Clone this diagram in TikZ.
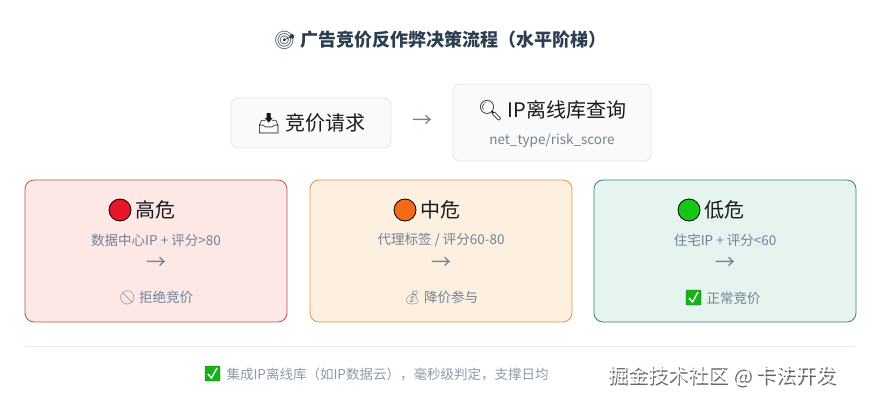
\documentclass[tikz,border=0pt]{standalone}
\usepackage{fontspec}
\setmainfont{Noto Sans CJK SC}
\newfontfamily\emo{Noto Emoji}
\begin{document}
\begin{tikzpicture}[x=1pt,y=-1pt,
  card/.style={draw,rounded corners=9pt,line width=0.8pt},
  cardtitle/.style={font=\fontsize{20}{22}\selectfont,text=black!90},
  cond/.style={font=\fontsize{13.5}{15}\selectfont,text=gray1},
  arr/.style={font=\fontsize{20}{20}\selectfont,text=gray1},
  res/.style={font=\fontsize{13.5}{15}\selectfont,text=gray1}]
\definecolor{gray1}{HTML}{6F8396}
\definecolor{titlec}{HTML}{2C3E50}
\definecolor{dotr}{HTML}{E8162A}
\definecolor{doto}{HTML}{F56A14}
\definecolor{dotg}{HTML}{14C814}
\definecolor{chk}{HTML}{14B414}
\useasboundingbox[fill=white] (0,0) rectangle (880,406);
\node (title) at (440,40) {\fontsize{18}{20}\selectfont\bfseries\color{titlec}{\emo 🎯} 广告竞价反作弊决策流程（水平阶梯）};
\draw[card,rounded corners=7pt,draw=black!10,fill=black!2] (231,98) rectangle (391,148);
\node[cardtitle] (req) at (311,124) {{\emo 📥} 竞价请求};
\node[arr] (a0) at (422,121) {→};
\draw[card,rounded corners=7pt,draw=black!10,fill=black!2] (453,84) rectangle (651,161);
\node[cardtitle] (ip) at (552,111) {{\emo 🔍} IP离线库查询};
\node[cond] (ipsub) at (552,141) {net\_type/risk\_score};
\definecolor{rb}{HTML}{B5574A}\definecolor{rf}{HTML}{FDE8E6}
\definecolor{ob}{HTML}{E0954A}\definecolor{of}{HTML}{FEF0E0}
\definecolor{gb}{HTML}{2E7D8A}\definecolor{gf}{HTML}{E6F4EF}
\draw[card,draw=rb,fill=rf] (25,180) rectangle (287,322);
\draw[card,draw=ob,fill=of] (310,180) rectangle (572,322);
\draw[card,draw=gb,fill=gf] (594,180) rectangle (856,322);
% high
\node[cardtitle,anchor=west] (th) at (132,210) {高危};
\draw[fill=dotr,line width=0.8pt] (120,210) circle (11);
\node[cond] (ch) at (156,240) {数据中心IP + 评分>80};
\node[arr] (arh) at (156,263) {→};
\node[res] (rh) at (156,298) {{\emo 🚫} 拒绝竞价};
% mid
\node[cardtitle,anchor=west] (tm) at (417,210) {中危};
\draw[fill=doto,line width=0.8pt] (405,210) circle (11);
\node[cond] (cm) at (441,240) {代理标签 / 评分60-80};
\node[arr] (arm) at (441,263) {→};
\node[res] (rm) at (441,298) {{\emo 💰} 降价参与};
% low
\node[cardtitle,anchor=west] (tl) at (701,210) {低危};
\draw[fill=dotg,line width=0.8pt] (689,210) circle (11);
\node[cond] (cl) at (725,240) {住宅IP + 评分<60};
\node[arr] (arl) at (725,263) {→};
\node[res,anchor=west] (rl) at (703,298) {正常竞价};
\draw[fill=chk,draw=black!70,rounded corners=1pt] (686,290) rectangle (701,305);
\draw[white,line width=1.4pt] (689,298) -- (692.5,302) -- (698,292);
\draw[black!8,line width=0.8pt] (25,346) -- (855,346);
\node[res,anchor=west,text=gray1!80] (foot) at (223,374) {集成IP离线库（如IP数据云），毫秒级判定，支撑日均};
\draw[fill=chk,draw=black!70,rounded corners=1pt] (205,366) rectangle (220,381);
\draw[white,line width=1.4pt] (208,374) -- (211.5,378) -- (217,368);
\node[font=\fontsize{20}{22}\selectfont,text=black!60] at (723.5,377.5) {掘金技术社区 @ 卡法开发};
\node[font=\fontsize{20}{22}\selectfont,text=white] (wm) at (722,376) {掘金技术社区 @ 卡法开发};
\end{tikzpicture}
\end{document}
